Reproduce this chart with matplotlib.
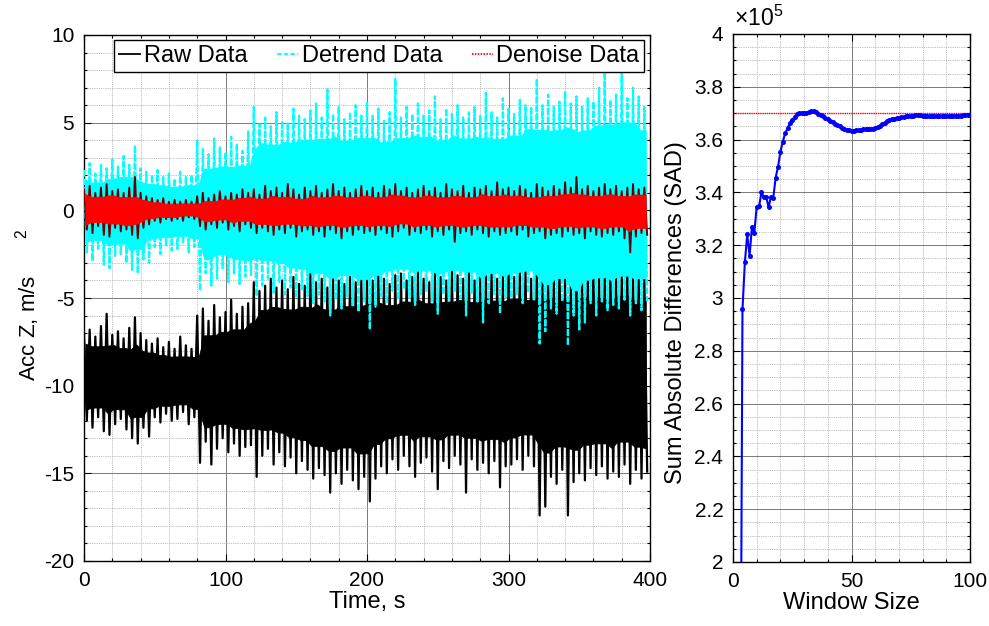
import numpy as np
import matplotlib
matplotlib.use('Agg')
import matplotlib.pyplot as plt
from matplotlib.lines import Line2D
from matplotlib.ticker import MultipleLocator, FuncFormatter

plt.rcParams['font.family'] = ['Liberation Sans', 'DejaVu Sans']
plt.rcParams['mathtext.fontset'] = 'custom'
plt.rcParams['mathtext.rm'] = 'Liberation Sans'
plt.rcParams['mathtext.it'] = 'Liberation Sans:italic'
plt.rcParams['mathtext.bf'] = 'Liberation Sans:bold'
plt.rcParams['axes.unicode_minus'] = False

# ---------------- Left panel: envelope (max/min) of each signal every 4 s ----------------
sample_times = list(range(0, 400, 4))

raw_hi = [-7.0, -6.8, -7.2, -6.6, -5.9, -7.1, -6.9, -7.3, -6.7, -6.1, -7.0, -7.4, -7.6, -7.3, -7.8, -7.5, -7.9, -7.2, -7.7, -7.9,
          -6.0, -5.6, -6.3, -5.4, -6.1, -5.8, -5.1, -5.9, -5.5, -5.3,
          -4.1, -4.6, -4.3, -3.9, -4.4, -4.0, -4.5, -3.8, -4.2, -4.3, -3.6, -4.1, -3.9, -4.4, -3.7, -4.0, -4.2, -3.8, -4.1, -3.9,
          -3.8, -4.0, -3.5, -3.9, -4.2, -3.7, -3.6, -4.0, -3.8, -3.4, -3.9, -4.1, -3.6, -3.8, -4.0, -3.3, -3.7, -3.9, -3.5, -4.0, -3.8, -3.6, -3.4, -3.9, -3.7,
          -3.6, -3.8, -3.3, -3.5, -3.9, -3.2, -3.6, -3.4, -3.7, -3.1, -3.5, -3.8, -3.3, -3.4, -3.6, -3.0, -3.5, -3.7, -3.2, -3.4, -3.6, -3.3, -3.5, -3.8, -3.6]
raw_lo = [-12.0, -12.4, -11.8, -12.6, -12.8, -12.2, -11.9, -12.5, -13.0, -13.3, -12.4, -12.9, -11.8, -12.1, -11.6, -12.0, -11.9, -11.5, -12.2, -11.8,
          -14.4, -13.2, -14.5, -13.6, -13.0, -13.8, -13.3, -14.0, -13.5, -13.4,
          -15.2, -14.0, -13.6, -14.5, -13.8, -14.6, -14.1, -15.0, -14.3, -14.8, -15.3, -14.7, -15.1, -16.1, -15.0, -15.6, -14.8, -15.4, -15.9, -15.2,
          -16.6, -15.3, -14.6, -15.0, -14.2, -14.8, -14.0, -14.6, -15.2, -14.4, -14.1, -14.9, -15.9, -14.3, -14.7, -14.0, -14.5, -16.1, -14.2, -14.8, -14.4, -15.0, -14.3, -15.8, -14.6,
          -14.5, -14.2, -14.8, -14.0, -14.6, -17.4, -16.9, -15.2, -15.6, -14.8, -17.4, -15.5, -15.0, -15.4, -14.7, -15.1, -14.6, -15.3, -14.9, -15.2, -14.5, -15.6, -14.8, -15.3, -14.9]

detrend_hi = [2.3, 2.7, 2.1, 2.6, 2.4, 2.9, 2.5, 3.1, 2.6, 3.7, 2.4, 2.2, 2.0, 2.3, 1.9, 2.1, 1.8, 2.2, 1.9, 2.0,
              4.0, 3.5, 3.2, 4.1, 3.6, 3.3, 4.2, 3.8, 3.4, 4.5,
              5.9, 4.9, 5.3, 4.8, 5.6, 5.1, 5.0, 5.8, 5.4, 5.2, 5.7, 6.1, 5.3, 6.9, 5.5, 5.9, 5.2, 5.6, 6.0, 5.4,
              6.2, 5.4, 5.8, 5.1, 5.6, 7.5, 5.3, 5.9, 5.5, 6.1, 5.4, 5.7, 6.5, 5.2, 5.8, 5.5, 6.0, 5.3, 5.6, 5.9, 5.4, 6.7, 5.6, 5.3, 6.4,
              5.8, 5.5, 6.3, 6.0, 5.9, 7.5, 6.0, 6.6, 5.9, 6.2, 6.8, 6.1, 6.5, 5.9, 6.4, 6.2, 7.0, 7.9, 6.3, 6.6, 7.9, 6.4, 7.0, 6.5, 5.9]
detrend_lo = [-2.4, -2.9, -2.2, -3.1, -3.3, -2.6, -2.5, -3.0, -3.4, -3.6, -2.8, -3.0, -2.1, -2.5, -2.0, -2.3, -2.2, -1.9, -2.4, -2.1,
              -4.6, -3.6, -4.3, -3.9, -3.3, -4.1, -3.6, -4.2, -3.8, -3.7,
              -4.9, -4.3, -3.9, -4.7, -4.1, -4.8, -4.4, -5.0, -4.5, -4.9, -5.3, -4.8, -5.2, -6.0, -5.1, -5.6, -4.9, -5.4, -5.8, -5.2,
              -6.8, -5.5, -4.9, -5.3, -4.6, -5.1, -4.5, -5.0, -5.4, -4.8, -4.6, -5.2, -5.9, -4.8, -5.1, -4.6, -5.0, -6.0, -4.7, -5.2, -6.4, -5.3, -4.8, -5.9, -5.0,
              -5.0, -4.8, -5.3, -4.7, -5.1, -7.6, -6.9, -5.6, -5.9, -5.2, -7.7, -6.0, -6.8, -6.4, -5.3, -6.0, -5.2, -5.7, -5.4, -5.6, -5.1, -6.0, -5.3, -5.7, -5.2]

denoise_hi = [1.2, 1.4, 1.0, 1.3, 1.5, 1.1, 1.2, 1.0, 1.3, 1.9, 1.0, 0.8, 0.7, 0.6, 0.7, 0.5, 0.6, 0.5, 0.6, 0.5,
              0.8, 1.0, 0.7, 0.9, 1.1, 0.8, 1.0, 0.9, 1.2, 1.0,
              1.2, 0.9, 1.4, 1.1, 1.3, 1.0, 1.5, 1.2, 0.9, 1.3, 1.1, 1.4, 1.0, 1.2, 1.5, 1.1, 1.3, 1.0, 1.2, 1.4,
              1.1, 1.3, 1.0, 1.4, 1.2, 1.5, 1.1, 1.3, 1.0, 1.2, 1.4, 1.1, 1.3, 1.0, 1.5, 1.2, 1.1, 1.4, 1.0, 1.3, 1.2, 1.4, 1.1, 1.6, 1.2,
              1.3, 1.1, 1.4, 1.2, 1.0, 1.5, 1.3, 1.1, 1.4, 1.2, 1.6, 1.3, 1.9, 1.2, 1.4, 1.1, 1.3, 1.5, 1.2, 1.4, 1.1, 1.3, 1.5, 1.2, 1.3]
denoise_lo = [-1.1, -1.3, -0.9, -1.4, -1.5, -1.0, -1.2, -1.1, -1.4, -1.6, -1.0, -0.8, -0.6, -0.7, -0.5, -0.6, -0.5, -0.6, -0.4, -0.5,
              -0.9, -1.1, -0.8, -1.0, -0.7, -1.1, -0.9, -1.2, -0.8, -1.0,
              -1.3, -1.0, -1.2, -1.4, -1.1, -1.3, -1.0, -1.5, -1.2, -1.1, -1.4, -1.2, -1.5, -1.1, -1.3, -1.6, -1.2, -1.4, -1.1, -1.3,
              -1.2, -1.4, -1.1, -1.3, -1.5, -1.2, -1.0, -1.4, -1.2, -1.3, -1.1, -1.5, -1.2, -1.4, -1.1, -1.8, -1.3, -1.2, -1.4, -1.1, -1.3, -1.5, -1.2, -1.4, -1.3,
              -1.2, -1.4, -1.1, -1.5, -1.3, -1.2, -1.6, -1.4, -1.3, -1.5, -1.2, -1.4, -1.3, -1.6, -1.2, -1.4, -1.5, -1.3, -1.4, -1.2, -1.6, -2.4, -1.5, -1.3, -1.4]

legend_labels = ['Raw Data', 'Detrend Data', 'Denoise Data']

# ---------------- Right panel ----------------
window_sizes = list(range(3, 101))
sad_values = [1.000e5, 2.957e5, 3.135e5, 3.241e5, 3.160e5, 3.270e5, 3.248e5, 3.346e5, 3.347e5, 3.400e5,
              3.382e5, 3.384e5, 3.344e5, 3.382e5, 3.380e5, 3.456e5, 3.497e5, 3.554e5, 3.592e5, 3.624e5,
              3.643e5, 3.662e5, 3.674e5, 3.687e5, 3.696e5, 3.700e5, 3.702e5, 3.700e5, 3.701e5, 3.705e5,
              3.708e5, 3.707e5, 3.703e5, 3.697e5, 3.694e5, 3.690e5, 3.683e5, 3.677e5, 3.672e5, 3.666e5,
              3.660e5, 3.655e5, 3.650e5, 3.645e5, 3.641e5, 3.638e5, 3.636e5, 3.634e5, 3.634e5, 3.635e5,
              3.636e5, 3.637e5, 3.639e5, 3.640e5, 3.641e5, 3.642e5, 3.642e5, 3.643e5, 3.647e5, 3.652e5,
              3.658e5, 3.664e5, 3.669e5, 3.673e5, 3.677e5, 3.679e5, 3.681e5, 3.683e5, 3.685e5, 3.686e5,
              3.688e5, 3.689e5, 3.690e5, 3.691e5, 3.692e5, 3.692e5, 3.692e5, 3.691e5, 3.691e5, 3.690e5,
              3.689e5, 3.689e5, 3.688e5, 3.688e5, 3.688e5, 3.689e5, 3.689e5, 3.689e5, 3.690e5, 3.690e5,
              3.690e5, 3.691e5, 3.691e5, 3.691e5, 3.692e5, 3.692e5, 3.692e5, 3.692e5]
sad_reference = 3.700e5


def zigzag(times, hi, lo, half_step=2.0):
    t = np.asarray(times, dtype=float)
    x = np.column_stack([t, t + half_step]).ravel()
    y = np.column_stack([np.asarray(hi, float), np.asarray(lo, float)]).ravel()
    return x, y


def core_band(hi, lo, k=1, shrink=0.12):
    """Solid inner part of the band: local min of the peaks / max of the troughs,
    pulled inwards a little so the outermost samples show as thin spikes."""
    h = np.asarray(hi, float)
    l = np.asarray(lo, float)
    n = len(h)
    hp = np.pad(h, k, mode='edge')
    lp = np.pad(l, k, mode='edge')
    ch = np.min([hp[i:i + n] for i in range(2 * k + 1)], axis=0)
    cl = np.max([lp[i:i + n] for i in range(2 * k + 1)], axis=0)
    amp = ch - cl
    return cl + shrink * amp, ch - shrink * amp


def draw_signal(ax, times, hi, lo, face, spike_color, ls, z, lw=1.5):
    cl, ch = core_band(hi, lo)
    x, y = zigzag(times, hi, lo)
    ax.plot(x, y, color=spike_color, lw=lw, ls=ls, zorder=z)
    ax.fill_between(np.asarray(times, float) + 1.0, cl, ch, facecolor=face,
                    edgecolor=face, lw=0.6, zorder=z + 0.1)


def style_axes(ax):
    ax.set_axisbelow(True)
    ax.grid(which='major', color='#7a7a7a', lw=0.7, ls='-')
    ax.grid(which='minor', color='#a8a8a8', lw=0.6, ls=(0, (1, 1.2)))
    ax.tick_params(which='both', direction='in', top=True, right=True,
                   labelsize=15, pad=7, width=0.8)
    ax.tick_params(which='major', length=5)
    ax.tick_params(which='minor', length=2.5)
    for s in ax.spines.values():
        s.set_linewidth(1.0)
        s.set_color('black')


fig = plt.figure(figsize=(9.89, 6.26), dpi=100)

# Left axes
ax1 = fig.add_axes([84 / 989, 65 / 626, 566 / 989, 526 / 626])
draw_signal(ax1, sample_times, raw_hi, raw_lo, 'black', 'black', '-', 2, lw=1.6)
draw_signal(ax1, sample_times, detrend_hi, detrend_lo, 'cyan', 'cyan', (0, (3, 0.8)), 3, lw=1.6)
draw_signal(ax1, sample_times, denoise_hi, denoise_lo, 'red', '#6a0000', '-', 4, lw=1.4)
ax1.set_xlim(0, 400)
ax1.set_ylim(-20, 10)
ax1.xaxis.set_major_locator(MultipleLocator(100))
ax1.xaxis.set_minor_locator(MultipleLocator(20))
ax1.yaxis.set_major_locator(MultipleLocator(5))
ax1.yaxis.set_minor_locator(MultipleLocator(1))
style_axes(ax1)
ax1.set_xlabel('Time, s', fontsize=17, labelpad=1)
ax1.set_ylabel('Acc Z, m/s      $^{2}$', fontsize=16)
ax1.yaxis.set_label_coords(-0.074, 0.486)

handles = [Line2D([], [], color='black', lw=1.3, ls='-'),
           Line2D([], [], color='cyan', lw=1.3, ls=(0, (2.5, 1.2))),
           Line2D([], [], color='red', lw=1.3, ls=(0, (0.8, 0.8)))]
leg = ax1.legend(handles, legend_labels, ncol=3, loc='upper right',
                 bbox_to_anchor=(0.99, 0.99), fontsize=17, handlelength=0.9,
                 handletextpad=0.15, columnspacing=1.25, borderpad=0.2,
                 borderaxespad=0, frameon=True, fancybox=False,
                 edgecolor='black', framealpha=1)
leg.get_frame().set_linewidth(1.0)
leg.set_zorder(10)

# Right axes
ax2 = fig.add_axes([733 / 989, 64 / 626, 237 / 989, 528 / 626])
ax2.axhline(sad_reference, color='red', lw=1.0, ls=(0, (1, 0.6)), zorder=2)
ax2.plot(window_sizes, sad_values, color='blue', lw=1.5, marker='o', ms=3.6,
         mew=0, zorder=3)
ax2.set_xlim(0, 100)
ax2.set_ylim(2e5, 4e5)
ax2.xaxis.set_major_locator(MultipleLocator(50))
ax2.xaxis.set_minor_locator(MultipleLocator(10))
ax2.yaxis.set_major_locator(MultipleLocator(0.2e5))
ax2.yaxis.set_minor_locator(MultipleLocator(0.05e5))
ax2.yaxis.set_major_formatter(FuncFormatter(lambda v, p: f'{v / 1e5:g}'))
style_axes(ax2)
ax2.set_xlabel('Window Size', fontsize=17, labelpad=1)
ax2.set_ylabel('Sum Absolute Differences (SAD)', fontsize=17)
ax2.yaxis.set_label_coords(-0.194, 0.473)
ax2.text(0.005, 1.006, r'$\times$10$^{5}$', transform=ax2.transAxes,
         ha='left', va='bottom', fontsize=16.5)

fig.savefig('out.png', dpi=100)
